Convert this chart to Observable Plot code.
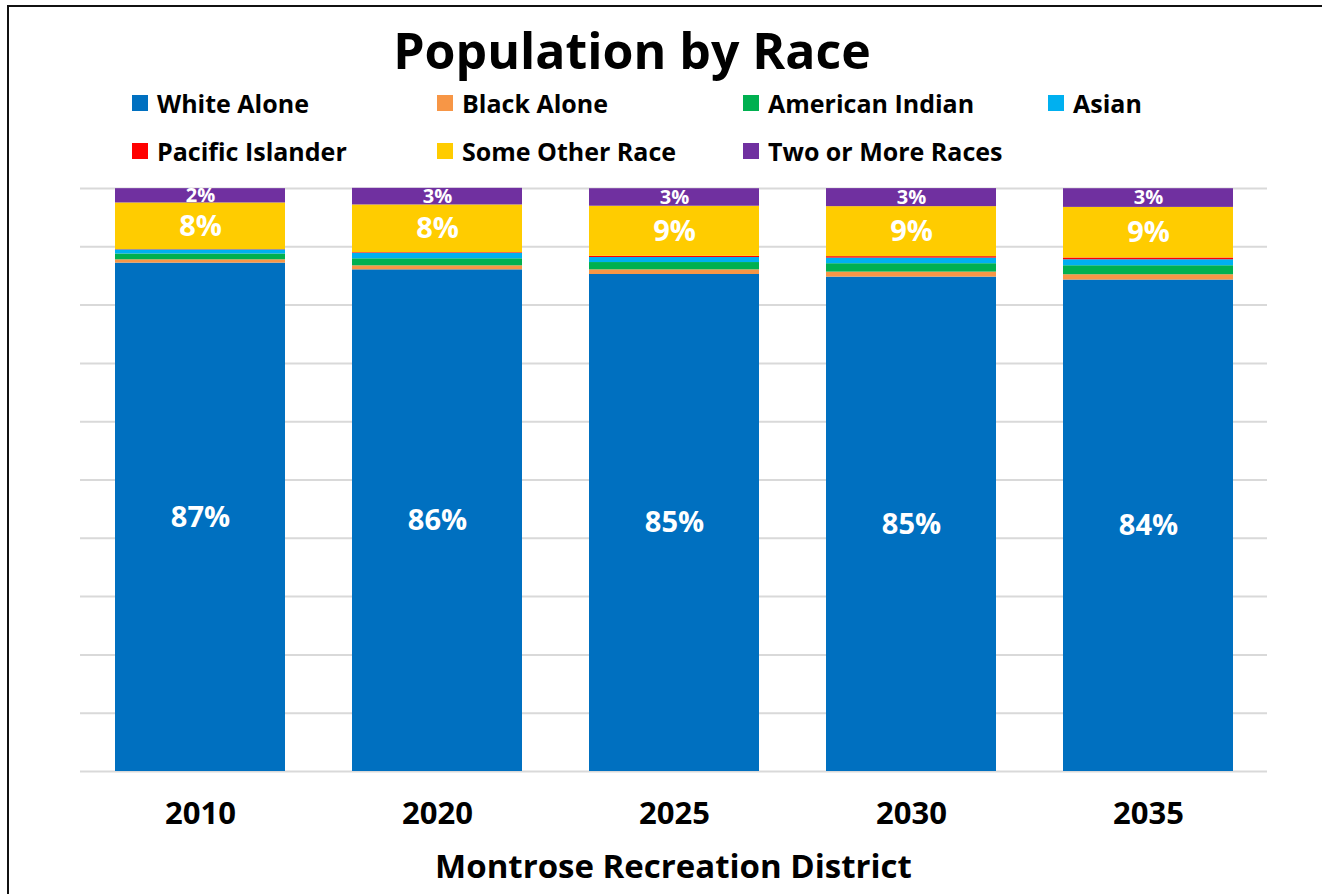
<!DOCTYPE html>
<html>
<head>
<meta charset="utf-8">
<script src="https://cdn.jsdelivr.net/npm/d3@7"></script>
<script src="https://cdn.jsdelivr.net/npm/@observablehq/plot@0.6"></script>
<style>
  html, body { margin: 0; padding: 0; background: #fff; }
  body { width: 1322px; height: 894px; position: relative; overflow: hidden; font-family: "Open Sans", sans-serif; }
  #frame { position: absolute; left: 7px; top: 5px; width: 1400px; height: 1000px; border-left: 2px solid #111; border-top: 2px solid #111; box-sizing: border-box; }
  #title { position: absolute; left: 0; width: 1264px; top: 14px; text-align: center; font-weight: 700; font-size: 50px; line-height: 72px; color: #000; }
  .leg { position: absolute; display: flex; align-items: center; font-weight: 700; font-size: 25px; color: #000; white-space: nowrap; }
  .leg span.sw { display: inline-block; width: 16px; height: 16px; margin-right: 9px; }
  #chart { position: absolute; left: 0; top: 180px; }
  #xtitle { position: absolute; left: 80px; width: 1187px; top: 846px; text-align: center; font-weight: 700; font-size: 33px; line-height: 40px; color: #000; }
</style>
</head>
<body>
<div id="frame"></div>
<div id="title">Population by Race</div>
<div id="legend"></div>
<div id="chart"></div>
<div id="xtitle">Montrose Recreation District</div>
<script>
const years = ["2010", "2020", "2025", "2030", "2035"];
const races = ["White Alone", "Black Alone", "American Indian", "Asian", "Pacific Islander", "Some Other Race", "Two or More Races"];
const colors = ["#0070C0", "#F79646", "#00B050", "#00B0F0", "#FF0000", "#FFCC00", "#7030A0"];

const whiteAlone      = [87.2, 86.05, 85.25, 84.8, 84.3];
const blackAlone      = [0.57, 0.69, 0.8, 0.86, 0.91];
const americanIndian  = [1.0, 1.2, 1.25, 1.44, 1.54];
const asian           = [0.7, 0.96, 0.86, 0.96, 1.03];
const pacificIslander = [0.05, 0.1, 0.2, 0.25, 0.3];
const someOtherRace   = [8.0, 8.18, 8.6, 8.58, 8.68];
const twoOrMore       = [2.45, 2.85, 3.0, 3.09, 3.2];

const labeledBig = ["White Alone", "Some Other Race"];
const labeledSmall = ["Two or More Races"];

const series = [whiteAlone, blackAlone, americanIndian, asian, pacificIslander, someOtherRace, twoOrMore];
const data = [];
races.forEach((r, i) => years.forEach((y, j) => data.push({year: y, race: r, value: series[i][j]})));

// Legend (HTML)
const legendPos = [
  [132, 103], [437, 103], [743, 103], [1048, 103],
  [132, 151], [437, 151], [743, 151]
];
const legend = document.getElementById("legend");
races.forEach((r, i) => {
  const d = document.createElement("div");
  d.className = "leg";
  d.style.left = legendPos[i][0] + "px";
  d.style.top = (legendPos[i][1] - 16) + "px";
  d.style.height = "32px";
  d.innerHTML = `<span class="sw" style="background:${colors[i]}"></span>${r}`;
  legend.appendChild(d);
});

const stackOpts = {x: "year", y: "value", z: "race", order: races};
const pct = v => Math.round(v) + "%";

const chart = Plot.plot({
  width: 1322,
  height: 660,
  marginLeft: 80,
  marginRight: 55,
  marginTop: 8,
  marginBottom: 69,
  style: {fontFamily: "Open Sans, sans-serif", background: "transparent", overflow: "visible"},
  x: {domain: years, paddingInner: 0.284, paddingOuter: 0.142, label: null},
  y: {domain: [0, 100], axis: null},
  color: {domain: races, range: colors},
  marks: [
    Plot.gridY({ticks: 10, stroke: "#d9d9d9", strokeOpacity: 1, strokeWidth: 2}),
    Plot.barY(data, Plot.stackY({...stackOpts, fill: "race"})),
    Plot.text(data, Plot.stackY({
      ...stackOpts,
      text: d => labeledBig.includes(d.race) ? pct(d.value) : null,
      fill: "white", fontSize: 29, fontWeight: 700
    })),
    Plot.text(data, Plot.stackY({
      ...stackOpts,
      text: d => labeledSmall.includes(d.race) ? pct(d.value) : null,
      fill: "white", fontSize: 20, fontWeight: 700
    })),
    Plot.axisX({tickSize: 0, tickPadding: 30, fontSize: 31, fontWeight: 700, color: "#000", label: null})
  ]
});
chart.querySelectorAll("g[aria-label='x-axis tick label']").forEach(g => { g.setAttribute("font-weight", "700"); g.setAttribute("fill", "#000"); });
document.getElementById("chart").appendChild(chart);
</script>
</body>
</html>
